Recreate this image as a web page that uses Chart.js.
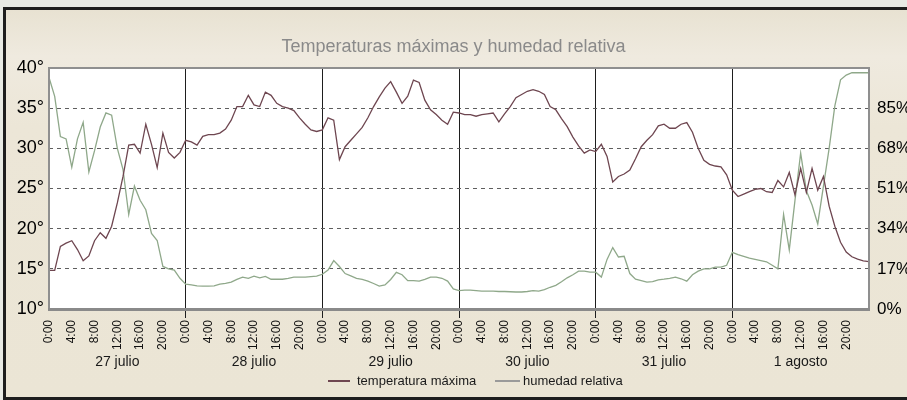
<!DOCTYPE html>
<html>
<head>
<meta charset="utf-8">
<script src="https://cdn.jsdelivr.net/npm/chart.js@4.4.1/dist/chart.umd.min.js"></script>
<style>
  html, body { margin: 0; padding: 0; width: 907px; height: 400px; overflow: hidden; background: #e8eae4; }
  #frame {
    position: absolute; left: 3px; top: 7px; width: 912px; height: 387px;
    border: 3px solid #1e1e1e;
    background: linear-gradient(#e8e2d2, #efeadf 12%, #ece6d7 30%, #ebe5d5);
  }
  #chart { position: absolute; left: 0; top: 0; }
</style>
</head>
<body>
<div id="frame"></div>
<canvas id="chart" width="907" height="400"></canvas>
<script>
// Hourly readings, 27 julio 0:00 through 2 agosto 0:00
const TITLE = 'Temperaturas máximas y humedad relativa';
const DAY_LABELS = ['27 julio', '28 julio', '29 julio', '30 julio', '31 julio', '1 agosto'];
const SERIES_NAMES = ['temperatura máxima', 'humedad relativa'];

const TEMP = [
  14.8, 14.8, 17.8, 18.2, 18.5, 17.4, 16.0, 16.6, 18.5, 19.5, 18.8, 20.3,
  23.2, 26.5, 30.4, 30.5, 29.4, 33.0, 30.5, 27.6, 31.9, 29.5, 28.8, 29.5,
  31.0, 30.8, 30.4, 31.5, 31.7, 31.7, 31.9, 32.4, 33.5, 35.2, 35.2, 36.6,
  35.4, 35.2, 37.0, 36.6, 35.6, 35.2, 35.0, 34.7, 33.8, 33.0, 32.3, 32.1,
  32.3, 33.8, 33.5, 28.6, 30.2, 31.0, 31.8, 32.6, 33.8, 35.2, 36.4, 37.5,
  38.3, 37.0, 35.6, 36.5, 38.5, 38.2, 36.0, 34.8, 34.2, 33.5, 33.0, 34.5,
  34.4, 34.2, 34.2, 34.0, 34.2, 34.3, 34.4, 33.3, 34.3, 35.2, 36.3, 36.7,
  37.1, 37.3, 37.1, 36.7, 35.2, 34.8, 33.7, 32.7, 31.4, 30.3, 29.4, 29.8,
  29.6, 30.5, 29.0, 25.8, 26.5, 26.8, 27.3, 28.7, 30.2, 31.0, 31.7, 32.8,
  33.0, 32.5, 32.5, 33.0, 33.2, 32.0, 30.0, 28.5, 28.0, 27.8, 27.7, 26.7,
  24.8, 24.0, 24.3, 24.6, 24.9, 25.0, 24.6, 24.5, 26.0, 25.2, 27.0, 24.2,
  27.5, 24.5, 27.5, 24.8, 26.5, 22.8, 20.3, 18.3, 17.1, 16.5, 16.2, 16.0,
  15.9
];

const HUM = [
  98, 90, 73, 72, 60, 72, 79, 58, 67, 77, 83, 82,
  68, 59, 40, 52, 46, 42, 32, 29, 18, 17, 16.5, 13,
  10.5, 10.2, 9.8, 9.7, 9.7, 9.8, 10.5, 10.8, 11.4, 12.5, 13.5, 13.0,
  13.9, 13.2, 13.8, 12.6, 12.6, 12.6, 13.0, 13.5, 13.5, 13.5, 13.7, 13.9,
  14.7, 16.5, 20.5, 18, 15, 14, 13, 12.5, 11.8, 10.8, 9.7, 10.2,
  12.5, 15.5, 14.5, 12.0, 12.0, 11.8, 12.5, 13.5, 13.5, 13.0, 11.8, 8.5,
  7.8, 8.0, 8.0, 7.8, 7.6, 7.6, 7.6, 7.4, 7.4, 7.3, 7.2, 7.2,
  7.4, 7.8, 7.6, 8.2, 9.2, 10.0, 11.5, 13.2, 14.5, 16.0, 16.0, 15.6,
  15.6, 13.5, 21, 26, 22, 22.3, 15, 12.6, 12, 11.4, 11.6, 12.3,
  12.6, 13.0, 13.5, 12.8, 11.8, 14.5, 16.0, 17.0, 17.0, 17.7, 17.7, 18.5,
  24.0, 23.0, 22.3, 21.5, 21.0, 20.5, 20.0, 18.5, 17.0, 40, 25, 46,
  66, 50, 44, 36, 52, 68, 86, 97, 99, 100, 100, 100,
  100
];

const TEMP_TICKS = [10, 15, 20, 25, 30, 35, 40];
const HUM_TICKS = [0, 17, 34, 51, 68, 85];
const HOUR_TICKS = [];
for (let h = 0; h < 144; h += 4) HOUR_TICKS.push(h);

const TEMP_COLOR = '#6e4650';
const HUM_COLOR = '#8fa88a';
const FONT = "'Liberation Sans', Arial, Helvetica, sans-serif";
Chart.defaults.font.family = FONT;

const isDayLine = v => v !== undefined && v > 0 && v < 144 && v % 24 === 0;

// Plot background, frame, title, day names and legend
const decor = {
  id: 'decor',
  beforeDraw(chart) {
    const { ctx, chartArea: a } = chart;
    ctx.save();
    ctx.fillStyle = '#ffffff';
    ctx.fillRect(a.left, a.top, a.right - a.left, a.bottom - a.top);
    ctx.restore();
  },
  afterDraw(chart) {
    const { ctx, chartArea: a, scales: { x } } = chart;
    ctx.save();
    ctx.strokeStyle = '#8f8f8f';
    ctx.lineWidth = 2;
    ctx.strokeRect(a.left, a.top, a.right - a.left, a.bottom - a.top);
    ctx.fillStyle = '#8a8a8a';
    ctx.fillRect(a.left - 1, a.bottom - 1, a.right - a.left + 2, 3);

    ctx.fillStyle = '#8a8a8a';
    ctx.font = '18px ' + FONT;
    ctx.textAlign = 'center';
    ctx.textBaseline = 'middle';
    ctx.fillText(TITLE, chart.width / 2, 47);

    ctx.fillStyle = '#1a1a1a';
    ctx.font = '14px ' + FONT;
    DAY_LABELS.forEach((d, i) => ctx.fillText(d, x.getPixelForValue(i * 24 + 12), 362));

    ctx.font = '13px ' + FONT;
    ctx.textAlign = 'left';
    const ly = 381;
    const items = [
      { color: TEMP_COLOR, x0: 328, x1: 350, tx: 357, text: SERIES_NAMES[0] },
      { color: '#9a9a9a', x0: 495, x1: 520, tx: 523, text: SERIES_NAMES[1] }
    ];
    items.forEach(it => {
      ctx.strokeStyle = it.color;
      ctx.lineWidth = 2;
      ctx.beginPath();
      ctx.moveTo(it.x0, ly);
      ctx.lineTo(it.x1, ly);
      ctx.stroke();
      ctx.fillStyle = '#1a1a1a';
      ctx.fillText(it.text, it.tx, ly);
    });
    ctx.restore();
  }
};

new Chart(document.getElementById('chart'), {
  type: 'line',
  data: {
    datasets: [
      {
        label: SERIES_NAMES[0],
        data: TEMP.map((v, h) => ({ x: h, y: v })),
        yAxisID: 'y',
        borderColor: TEMP_COLOR,
        borderWidth: 1.3,
        pointRadius: 0,
        tension: 0
      },
      {
        label: SERIES_NAMES[1],
        data: HUM.map((v, h) => ({ x: h, y: v })),
        yAxisID: 'yH',
        borderColor: HUM_COLOR,
        borderWidth: 1.3,
        pointRadius: 0,
        tension: 0
      }
    ]
  },
  options: {
    responsive: false,
    animation: false,
    devicePixelRatio: 1,
    layout: { padding: { top: 68, left: 0, right: 0, bottom: 0 } },
    plugins: { legend: { display: false }, tooltip: { enabled: false }, title: { display: false } },
    scales: {
      x: {
        type: 'linear',
        min: 0,
        max: 144,
        afterBuildTicks: ax => { ax.ticks = HOUR_TICKS.map(v => ({ value: v })); },
        afterFit: ax => { ax.height = 91; },
        ticks: {
          callback: v => (v % 24) + ':00',
          minRotation: 90,
          maxRotation: 90,
          autoSkip: false,
          color: '#111',
          font: { size: 12 },
          padding: 2
        },
        grid: {
          color: c => isDayLine(c.tick && c.tick.value) ? '#1e1e1e' : 'rgba(0,0,0,0)',
          tickColor: c => isDayLine(c.tick && c.tick.value) ? '#1e1e1e' : 'rgba(0,0,0,0)',
          lineWidth: 1,
          tickLength: 9,
          drawTicks: true
        },
        border: { display: false }
      },
      y: {
        type: 'linear',
        position: 'left',
        min: 10,
        max: 40,
        afterBuildTicks: ax => { ax.ticks = TEMP_TICKS.map(v => ({ value: v })); },
        afterFit: ax => { ax.width = 49; },
        ticks: { callback: v => v + '°', color: '#000', font: { size: 18 }, padding: 5 },
        grid: {
          color: c => (c.tick && (c.tick.value === 10 || c.tick.value === 40)) ? 'rgba(0,0,0,0)' : '#5e5e5e',
          lineWidth: 1,
          drawTicks: false,
          borderDash: [4, 4]
        },
        border: { display: false, dash: [4, 4] }
      },
      yH: {
        type: 'linear',
        position: 'right',
        min: 0,
        max: 102,
        afterBuildTicks: ax => { ax.ticks = HUM_TICKS.map(v => ({ value: v })); },
        afterFit: ax => { ax.width = 38; },
        ticks: { callback: v => v + '%', color: '#000', font: { size: 17 }, padding: 8 },
        grid: { display: false, drawTicks: false },
        border: { display: false }
      }
    }
  },
  plugins: [decor]
});
</script>
</body>
</html>
